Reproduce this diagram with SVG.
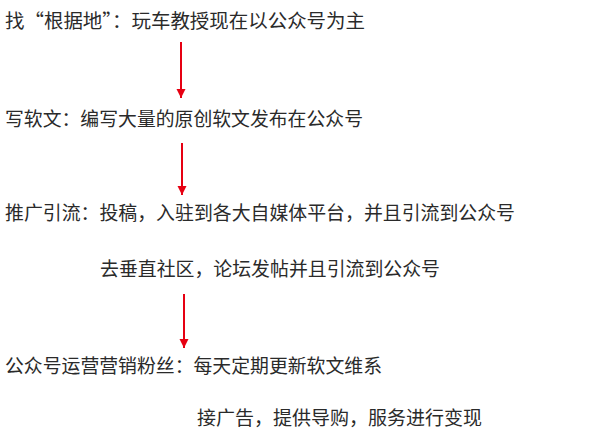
<svg xmlns="http://www.w3.org/2000/svg" width="600" height="437" viewBox="0 0 600 437">
<style>
.t{font-family:"Noto Sans CJK SC","Noto Sans",sans-serif;font-size:19px;fill:#2a2a2a}
.c{stroke:#e60012;stroke-width:2;fill:none}
</style>
<defs>
<marker id="ah" viewBox="0 0 10 10" refX="10" refY="5" markerWidth="4.5" markerHeight="6" markerUnits="strokeWidth" orient="auto">
<path d="M0,0 L10,5 L0,10 z" fill="#e60012"/>
</marker>
</defs>
<rect width="600" height="437" fill="#fff"/>
<g id="connectors">
<line class="c" x1="181" y1="42" x2="181" y2="98" marker-end="url(#ah)"/>
<line class="c" x1="182" y1="143" x2="182" y2="195" marker-end="url(#ah)"/>
<line class="c" x1="184" y1="294" x2="184" y2="348" marker-end="url(#ah)"/>
</g>
<g id="n1"><text class="t" x="5" y="28" textLength="360" lengthAdjust="spacingAndGlyphs">找“根据地”：玩车教授现在以公众号为主</text></g>
<g id="n2"><text class="t" x="5" y="126" textLength="358" lengthAdjust="spacingAndGlyphs">写软文：编写大量的原创软文发布在公众号</text></g>
<g id="n3"><text class="t" x="5" y="220" textLength="510" lengthAdjust="spacingAndGlyphs">推广引流：投稿，入驻到各大自媒体平台，并且引流到公众号</text></g>
<g id="n4"><text class="t" x="100" y="276" textLength="340" lengthAdjust="spacingAndGlyphs">去垂直社区，论坛发帖并且引流到公众号</text></g>
<g id="n5"><text class="t" x="5" y="373" textLength="377" lengthAdjust="spacingAndGlyphs">公众号运营营销粉丝：每天定期更新软文维系</text></g>
<g id="n6"><text class="t" x="197" y="425" textLength="285" lengthAdjust="spacingAndGlyphs">接广告，提供导购，服务进行变现</text></g>
</svg>
